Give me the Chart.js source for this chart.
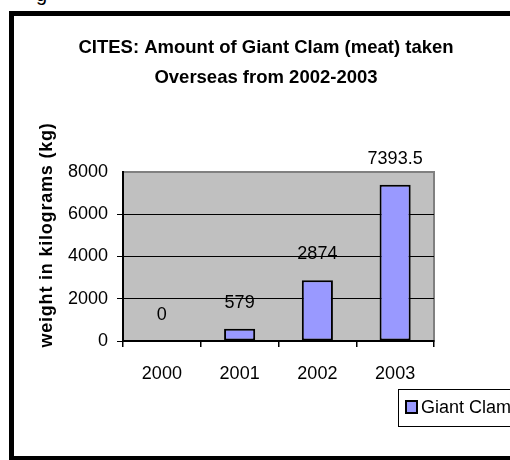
<!DOCTYPE html>
<html>
<head>
<meta charset="utf-8">
<script src="https://cdn.jsdelivr.net/npm/chart.js@4.4.1/dist/chart.umd.min.js"></script>
<style>
    html, body { margin: 0; padding: 0; background: #fff; overflow: hidden; }
    body { width: 510px; height: 460px; position: relative; }
    #frame {
        position: absolute; left: 9px; top: 11px;
        width: 530px; height: 450px;
        box-sizing: border-box; border: 5px solid #000;
    }
    #cut {
        position: absolute; left: 36px; top: -17px;
        font: 20px 'Liberation Sans', Arial, sans-serif; color: #000;
    }
    #wrap { position: absolute; left: 0; top: 0; width: 532px; height: 460px; }
</style>
</head>
<body>
<div id="cut">g</div>
<div id="frame"></div>
<div id="wrap"><canvas id="clamChart" width="532" height="460"></canvas></div>
<script>
// Données
const years = ['2000', '2001', '2002', '2003'];
const clamKg = [0, 579, 2874, 7393.5];
const seriesName = 'Giant Clam';
const titleLines = ['CITES: Amount of Giant Clam (meat) taken', 'Overseas from 2002-2003'];
const yAxisTitle = 'weight in kilograms (kg)';
const yMax = 8000;
const yStep = 2000;

const FONT = "'Liberation Sans', Arial, sans-serif";

// Fond gris + bordure de la zone de tracé
const plotAreaPlugin = {
    id: 'plotArea',
    beforeDraw(chart) {
        const { ctx, chartArea: a } = chart;
        ctx.save();
        ctx.fillStyle = '#c0c0c0';
        ctx.fillRect(a.left, a.top, a.right - a.left, a.bottom - a.top);
        ctx.strokeStyle = '#808080';
        ctx.lineWidth = 2;
        ctx.strokeRect(a.left, a.top, a.right - a.left, a.bottom - a.top);
        ctx.restore();
    }
};

// Étiquettes de valeurs au-dessus des barres
const valueLabelsPlugin = {
    id: 'valueLabels',
    afterDatasetsDraw(chart) {
        const { ctx } = chart;
        const meta = chart.getDatasetMeta(0);
        ctx.save();
        ctx.font = '18px ' + FONT;
        ctx.fillStyle = '#000';
        ctx.textAlign = 'center';
        ctx.textBaseline = 'middle';
        meta.data.forEach((bar, i) => {
            ctx.fillText(String(chart.data.datasets[0].data[i]), bar.x, bar.y - 26);
        });
        ctx.restore();
    }
};

// Titre de l'axe Y (décalé vers le haut comme dans Excel)
const yTitlePlugin = {
    id: 'yTitle',
    afterDraw(chart) {
        const { ctx, chartArea: a } = chart;
        ctx.save();
        ctx.translate(a.left - 76, a.top + 63);
        ctx.rotate(-Math.PI / 2);
        ctx.font = 'bold 18px ' + FONT;
        if ('letterSpacing' in ctx) ctx.letterSpacing = '0.8px';
        ctx.fillStyle = '#000';
        ctx.textAlign = 'center';
        ctx.textBaseline = 'middle';
        ctx.fillText(yAxisTitle, 0, 0);
        ctx.restore();
    }
};

// Légende encadrée façon Excel
const boxLegendPlugin = {
    id: 'boxLegend',
    afterDraw(chart) {
        const { ctx, chartArea: a } = chart;
        const ds = chart.data.datasets[0];
        const x = a.right - 36, y = a.bottom + 48;
        ctx.save();
        ctx.fillStyle = '#fff';
        ctx.fillRect(x, y, 140, 37);
        ctx.strokeStyle = '#000';
        ctx.lineWidth = 1;
        ctx.strokeRect(x + 0.5, y + 0.5, 140, 37);
        ctx.fillStyle = ds.backgroundColor;
        ctx.fillRect(x + 8, y + 12, 11, 12);
        ctx.lineWidth = 2;
        ctx.strokeRect(x + 8, y + 12, 11, 12);
        ctx.font = '18px ' + FONT;
        ctx.fillStyle = '#000';
        ctx.textBaseline = 'middle';
        ctx.fillText(ds.label, x + 23, y + 19);
        ctx.restore();
    }
};

const ctxClam = document.getElementById('clamChart').getContext('2d');
const clamChart = new Chart(ctxClam, {
    type: 'bar',
    data: {
        labels: years,
        datasets: [{
            label: seriesName,
            data: clamKg,
            backgroundColor: '#9999ff',
            borderColor: '#000000',
            borderWidth: c => (c.raw === 0 ? 0 : 2),
            borderSkipped: false,
            categoryPercentage: 1,
            barPercentage: 0.4
        }]
    },
    options: {
        responsive: false,
        animation: false,
        layout: { padding: 0 },
        plugins: {
            legend: { display: false },
            tooltip: { enabled: false },
            title: {
                display: true,
                text: titleLines,
                color: '#000',
                font: { family: FONT, size: 18.5, weight: 'bold', lineHeight: 30 / 18.5 },
                padding: { top: 33, bottom: 79 }
            }
        },
        scales: {
            x: {
                afterFit: s => { s.height = 119; },
                grid: {
                    offset: true,
                    drawOnChartArea: false,
                    tickLength: 6,
                    color: c => (c.index === years.length ? '#808080' : '#000'),
                    lineWidth: 1.5
                },
                border: { color: '#000', width: 2 },
                ticks: { color: '#000', padding: 16, font: { family: FONT, size: 18 } }
            },
            y: {
                min: 0,
                max: yMax,
                afterFit: s => { s.width = 123; },
                grid: {
                    tickLength: 6,
                    color: c => (c.tick && c.tick.value === yMax ? 'rgba(0,0,0,0)' : '#000'),
                    lineWidth: 1
                },
                border: { color: '#000', width: 2 },
                ticks: {
                    stepSize: yStep,
                    color: '#000',
                    padding: 9,
                    font: { family: FONT, size: 18 },
                    callback: v => String(v)
                }
            },
            // axe vide à droite : réserve la place pour que le titre reste centré sur la figure
            spacer: {
                type: 'linear',
                axis: 'y',
                position: 'right',
                afterFit: s => { s.width = 98; },
                grid: { display: false },
                border: { display: false },
                ticks: { display: false }
            }
        }
    },
    plugins: [plotAreaPlugin, valueLabelsPlugin, yTitlePlugin, boxLegendPlugin]
});
</script>
</body>
</html>
